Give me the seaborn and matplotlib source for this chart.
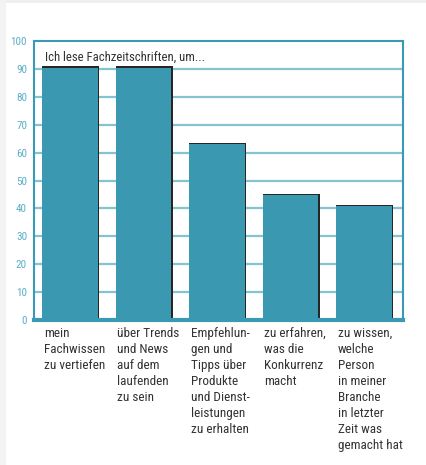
import matplotlib
matplotlib.use('Agg')
import matplotlib.pyplot as plt
import matplotlib.transforms as mtransforms
from matplotlib.patches import Rectangle
import seaborn as sns
import pandas as pd

# data
categories = ['vertiefen', 'trends', 'empfehlungen', 'konkurrenz', 'personen']
values = [90.5, 90.5, 63, 44.8, 40.8]
labels = [
    'mein\nFachwissen\nzu vertiefen',
    'über Trends\nund News\nauf dem\nlaufenden\nzu sein',
    'Empfehlun-\ngen und\nTipps über\nProdukte\nund Dienst-\nleistungen\nzu erhalten',
    'zu erfahren,\nwas die\nKonkurrenz\nmacht',
    'zu wissen,\nwelche\nPerson\nin meiner\nBranche\nin letzter\nZeit was\ngemacht hat',
]
y_ticks = list(range(0, 101, 10))
title = 'Ich lese Fachzeitschriften, um...'

BAR = '#3a98b1'
SHADOW = '#262626'
LINE = '#3a9ab5'
GRID = '#84c3d0'
TICK = '#5aaec6'
TEXT = '#333333'

sns.set_style('white')
plt.rcParams['font.family'] = ['Roboto Condensed', 'Liberation Sans', 'DejaVu Sans']

df = pd.DataFrame({'category': categories, 'value': values})

fig = plt.figure(figsize=(4.26, 4.65), dpi=100)
# light grey page edges
fig.add_artist(Rectangle((0, 0.993), 1, 0.007, transform=fig.transFigure, color='#efefef', lw=0))
fig.add_artist(Rectangle((0, 0), 0.014, 1, transform=fig.transFigure, color='#f3f3f3', lw=0))

ax = fig.add_axes([0.0798, 0.3118, 0.866, 0.600])

sns.barplot(data=df, x='category', y='value', color=BAR, width=0.75,
            saturation=1, ax=ax, zorder=3)

# dark shadow edge on top and right of each bar
for p in list(ax.patches):
    p.set_edgecolor('none')
    shadow = Rectangle((p.get_x(), 0), p.get_width() + 0.022, p.get_height() + 0.5,
                       facecolor=SHADOW, edgecolor='none', zorder=2.5)
    ax.add_patch(shadow)

ax.set_xlim(-0.49, 4.53)
ax.set_ylim(0, 100)
ax.set_yticks(y_ticks)
ax.set_xlabel('')
ax.set_ylabel('')

for y in y_ticks[1:-1]:
    ax.axhline(y, color=GRID, lw=1.6, zorder=1)

for side in ['left', 'right', 'top']:
    ax.spines[side].set_color(LINE)
    ax.spines[side].set_linewidth(1.5)
ax.spines['bottom'].set_color(LINE)
ax.spines['bottom'].set_linewidth(3)

ax.tick_params(axis='y', length=0, pad=5, labelsize=8, labelcolor=TICK)
ax.tick_params(axis='x', length=0, pad=5)

ax.set_xticks(range(len(categories)))
ax.set_xticklabels(labels, ha='left', va='top', fontsize=9.5, color=TEXT,
                   linespacing=1.3)
offset = mtransforms.ScaledTranslation(-26 / 100, 0, fig.dpi_scale_trans)
for lab in ax.get_xticklabels():
    lab.set_transform(lab.get_transform() + offset)

ax.text(0.03, 0.943, title, transform=ax.transAxes, ha='left', va='center',
        fontsize=9.2, color=TEXT, zorder=5)

fig.savefig('out.png', dpi=100)
plt.close(fig)
